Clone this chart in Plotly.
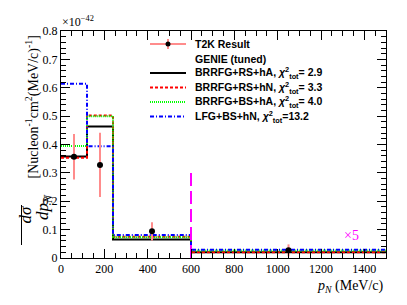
import plotly.graph_objects as go

# ---------------- data ----------------
bin_edges = [0, 120, 240, 600, 1500]
t2k_x = [60, 180, 420, 1050]
t2k_y = [0.357, 0.328, 0.094, 0.027]      # last bin shown x5
t2k_err = [0.080, 0.113, 0.032, 0.021]

brrfg_rs_ha = [0.358, 0.463, 0.065, 0.020]
brrfg_rs_hn = [0.353, 0.502, 0.075, 0.020]
brrfg_bs_ha = [0.395, 0.500, 0.073, 0.026]
lfg_bs_hn = [0.614, 0.394, 0.081, 0.029]

scale_x = [600, 600]
scale_y = [0.0, 0.30]

y_ticks = [0, 0.1, 0.2, 0.3, 0.4, 0.5, 0.6, 0.7, 0.8]
y_ticktext = ["0", "0.1", "0.2", "0.3", "0.4", "0.5", "0.6", "0.7", "0.8"]
x_ticks = [0, 200, 400, 600, 800, 1000, 1200, 1400]

legend_labels = [
    "T2K Result",
    "GENIE (tuned)",
    "BRRFG+RS+hA, <i>χ</i><sup>2</sup><sub>tot</sub>= 2.9",
    "BRRFG+RS+hN, <i>χ</i><sup>2</sup><sub>tot</sub>= 3.3",
    "BRRFG+BS+hA, <i>χ</i><sup>2</sup><sub>tot</sub>= 4.0",
    "LFG+BS+hN, <i>χ</i><sup>2</sup><sub>tot</sub>=13.2",
]

# ---------------- layout geometry (page pixels; page body has an 8px margin) ----------------
OFF = 8
W, H = 407 - OFF, 305 - OFF
PL, PR, PT, PB = 61, 386, 31, 258          # plot frame in page pixels
L, T = PL - OFF, PT - OFF
R, B = W - (PR - OFF), H - (PB - OFF)
PW, PH = PR - PL, PB - PT


def xp(px):
    return (px - PL) / PW


def yp(py):
    return (PB - py) / PH


SERIF = "Liberation Serif"
SANS = "Liberation Sans"

fig = go.Figure()


def step(vals):
    return vals + [vals[-1]]


models = [
    (brrfg_rs_ha, "black", "solid"),
    (brrfg_rs_hn, "#ff0000", "3px,2px"),
    (brrfg_bs_ha, "#00ff00", "1px,1px"),
    (lfg_bs_hn, "#0000ff", "4px,2px,1px,2px"),
]
for vals, col, dash in models:
    fig.add_trace(go.Scatter(x=bin_edges, y=step(vals), mode="lines",
                             line=dict(color=col, width=2, dash=dash, shape="hv"),
                             showlegend=False, hoverinfo="skip"))

fig.add_trace(go.Scatter(x=scale_x, y=scale_y, mode="lines",
                         line=dict(color="#ff00ff", width=2, dash="13px,5px"),
                         showlegend=False, hoverinfo="skip"))

fig.add_trace(go.Scatter(x=t2k_x, y=t2k_y, mode="markers",
                         marker=dict(color="black", size=6),
                         error_y=dict(type="data", array=t2k_err, color="#ff8c8c",
                                      thickness=2, width=0),
                         showlegend=False))

ann = []
shapes = []

# legend
rows = [44, 58.5, 73, 87.5, 102, 116.5]
for lab, ry in zip(legend_labels, rows):
    ann.append(dict(text="<b>" + lab + "</b>", x=xp(193), y=yp(ry), xref="paper", yref="paper",
                    xanchor="left", yanchor="middle", showarrow=False,
                    font=dict(family=SANS, size=10.5, color="black")))
# T2K legend symbol
shapes.append(dict(type="line", xref="paper", yref="paper", x0=xp(150), x1=xp(186),
                   y0=yp(44), y1=yp(44), line=dict(color="#ff8c8c", width=2)))
shapes.append(dict(type="line", xref="paper", yref="paper", x0=xp(168), x1=xp(168),
                   y0=yp(39), y1=yp(49), line=dict(color="#ff8c8c", width=2)))
shapes.append(dict(type="circle", xref="paper", yref="paper", x0=xp(165.5), x1=xp(170.5),
                   y0=yp(46.5), y1=yp(41.5), fillcolor="black", line=dict(color="black", width=0)))
for (vals, col, dash), ry in zip(models, rows[2:]):
    shapes.append(dict(type="line", xref="paper", yref="paper", x0=xp(150), x1=xp(186),
                       y0=yp(ry), y1=yp(ry), line=dict(color=col, width=2, dash=dash)))

# y title pieces (rotated)
ann.append(dict(text="[Nucleon<sup>-1</sup>cm<sup>2</sup>(MeV/c)<sup>-1</sup>]",
                x=xp(21), y=yp(107), xref="paper", yref="paper", textangle=-90,
                showarrow=False, font=dict(family=SERIF, size=14, color="black")))
ann.append(dict(text="<i>dσ</i>", x=xp(13), y=yp(225), xref="paper", yref="paper",
                textangle=-90, showarrow=False, font=dict(family=SERIF, size=17, color="black")))
ann.append(dict(text="<i>dp</i><sub><i>N</i></sub>", x=xp(31), y=yp(222), xref="paper",
                yref="paper", textangle=-90, showarrow=False,
                font=dict(family=SERIF, size=17, color="black")))
shapes.append(dict(type="line", xref="paper", yref="paper", x0=xp(21.5), x1=xp(21.5),
                   y0=yp(205), y1=yp(245), line=dict(color="black", width=1)))

# x title
ann.append(dict(text="<i>p</i><sub><i>N</i></sub> (MeV/c)", x=xp(386), y=yp(286),
                xref="paper", yref="paper", xanchor="right", yanchor="middle",
                showarrow=False, font=dict(family=SERIF, size=14, color="black")))
# exponent
ann.append(dict(text="×10<sup>−42</sup>", x=xp(60), y=yp(22), xref="paper", yref="paper",
                xanchor="left", yanchor="middle", showarrow=False,
                font=dict(family=SERIF, size=12, color="black")))
# x5 label
ann.append(dict(text="×5", x=1340, y=0.078, xref="x", yref="y", showarrow=False,
                font=dict(family=SERIF, size=14, color="#ff00ff")))

fig.update_layout(
    width=W, height=H, margin=dict(l=L, r=R, t=T, b=B, autoexpand=False),
    paper_bgcolor="white", plot_bgcolor="white",
    annotations=ann, shapes=shapes, showlegend=False,
)
fig.update_xaxes(range=[0, 1500], tickvals=x_ticks, ticks="inside", ticklen=9,
                 tickcolor="black", showline=True, linecolor="black", linewidth=1,
                 mirror="ticks", showgrid=False, zeroline=False,
                 minor=dict(dtick=50, tick0=0, ticks="inside", ticklen=5, tickcolor="black"),
                 tickfont=dict(family=SERIF, size=12, color="black"))
fig.update_yaxes(range=[0, 0.8], tickvals=y_ticks, ticktext=y_ticktext, ticks="inside",
                 ticklen=9, tickcolor="black", showline=True, linecolor="black", linewidth=1,
                 mirror="ticks", showgrid=False, zeroline=False,
                 minor=dict(dtick=0.02, tick0=0, ticks="inside", ticklen=5, tickcolor="black"),
                 tickfont=dict(family=SERIF, size=12, color="black"))

fig.write_html("out.html")
